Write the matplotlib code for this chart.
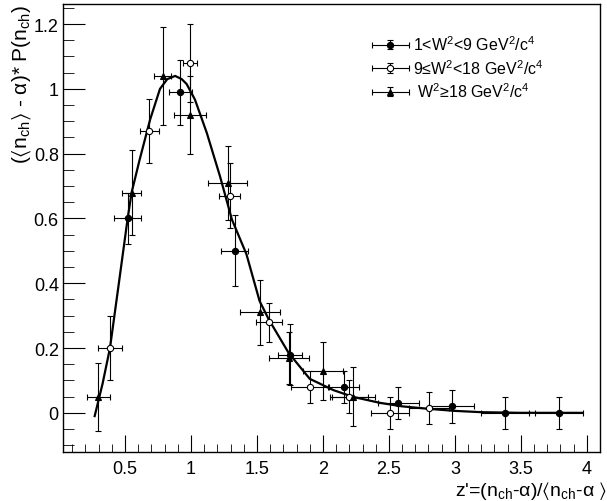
import matplotlib
matplotlib.use("Agg")
import matplotlib.pyplot as plt
from matplotlib.ticker import MultipleLocator
from matplotlib.container import ErrorbarContainer
from matplotlib.legend_handler import HandlerErrorbar

plt.rcParams['font.family'] = ['Liberation Sans', 'DejaVu Sans']
plt.rcParams['mathtext.fontset'] = 'custom'
plt.rcParams['mathtext.rm'] = 'Liberation Sans'
plt.rcParams['mathtext.default'] = 'regular'

# 1<W^2<9 (filled circles)
z_low = [0.52, 0.92, 1.33, 1.75, 2.16, 2.57, 2.975, 3.38, 3.79]
p_low = [0.60, 0.99, 0.50, 0.18, 0.08, 0.03, 0.02, 0.0, 0.0]
zerr_low = [0.10, 0.09, 0.10, 0.09, 0.115, 0.155, 0.17, 0.18, 0.18]
perr_low = [0.08, 0.10, 0.11, 0.095, 0.05, 0.05, 0.05, 0.05, 0.05]

# 9<=W^2<18 (open circles)
z_mid = [0.386, 0.684, 0.995, 1.295, 1.593, 1.90, 2.197, 2.51, 2.805]
p_mid = [0.20, 0.87, 1.08, 0.67, 0.28, 0.08, 0.05, 0.0, 0.015]
zerr_mid = [0.09, 0.073, 0.053, 0.08, 0.10, 0.14, 0.145, 0.145, 0.15]
perr_mid = [0.10, 0.10, 0.12, 0.10, 0.06, 0.05, 0.05, 0.05, 0.05]

# W^2>=18 (triangles)
z_high = [0.298, 0.55, 0.785, 0.995, 1.278, 1.523, 1.745, 2.0, 2.23]
p_high = [0.05, 0.68, 1.04, 0.92, 0.71, 0.31, 0.17, 0.13, 0.05]
zerr_high = [0.085, 0.07, 0.067, 0.12, 0.15, 0.15, 0.15, 0.15, 0.165]
perr_high = [0.105, 0.13, 0.15, 0.12, 0.115, 0.10, 0.08, 0.09, 0.09]

# fit curve
fit_z = [0.27, 0.33, 0.386, 0.45, 0.52, 0.55, 0.61, 0.69, 0.765, 0.82, 0.88,
         0.93, 0.967, 1.03, 1.12, 1.22, 1.31, 1.42, 1.52, 1.59, 1.74, 1.90,
         2.08, 2.23, 2.43, 2.6, 2.81, 3.0, 3.2, 3.5, 3.97]
fit_p = [-0.01, 0.09, 0.20, 0.39, 0.60, 0.68, 0.78, 0.905, 1.0, 1.03, 1.04,
         1.03, 1.015, 0.967, 0.864, 0.73, 0.597, 0.49, 0.345, 0.288, 0.185, 0.105,
         0.07, 0.049, 0.031, 0.02, 0.012, 0.006, 0.002, 0.0, 0.0]

fig = plt.figure(figsize=(6.07, 5.02), dpi=100)
ax = fig.add_axes([63 / 607, 1 - 452.7 / 502, 537 / 607, 447.7 / 502])

ax.plot(fit_z, fit_p, color='black', lw=1.6, zorder=2)

eb = dict(ls='none', ecolor='black', elinewidth=0.8, capsize=2, capthick=0.8,
          markersize=4.5, markeredgecolor='black', markeredgewidth=0.8, zorder=3)
ax.errorbar(z_low, p_low, xerr=zerr_low, yerr=perr_low, fmt='o',
            markerfacecolor='black', label=r'1<W$^{2}$<9 GeV$^{2}$/c$^{4}$', **eb)
ax.errorbar(z_mid, p_mid, xerr=zerr_mid, yerr=perr_mid, fmt='o',
            markerfacecolor='white', label=r'9≤W$^{2}$<18 GeV$^{2}$/c$^{4}$', **eb)
ax.errorbar(z_high, p_high, xerr=zerr_high, yerr=perr_high, fmt='^',
            markerfacecolor='black', label=r' W$^{2}$≥18 GeV$^{2}$/c$^{4}$', **eb)

ax.set_xlim(0.03, 4.1)
ax.set_ylim(-0.12, 1.262)
ax.xaxis.set_minor_locator(MultipleLocator(0.1))
ax.yaxis.set_minor_locator(MultipleLocator(0.05))
ax.set_xticks([0.5, 1, 1.5, 2, 2.5, 3, 3.5, 4])
ax.set_xticklabels(['0.5', '1', '1.5', '2', '2.5', '3', '3.5', '4'])
ax.set_yticks([0, 0.2, 0.4, 0.6, 0.8, 1, 1.2])
ax.set_yticklabels(['0', '0.2', '0.4', '0.6', '0.8', '1', '1.2'])
ax.tick_params(axis='both', which='both', direction='in', labelsize=13)
ax.tick_params(axis='x', which='major', length=12, pad=6)
ax.tick_params(axis='x', which='minor', length=6)
ax.tick_params(axis='y', which='major', length=16, pad=3)
ax.tick_params(axis='y', which='minor', length=8)
for s in ax.spines.values():
    s.set_linewidth(1.0)

ax.set_ylabel(r'($\langle$n$_{ch}\rangle$ - $\alpha$)* P(n$_{ch}$)', fontsize=15, loc='top')
ax.yaxis.set_label_coords(-0.056, 1.0)
ax.set_xlabel(r"z'=(n$_{ch}$-$\alpha$)/$\langle$n$_{ch}$-$\alpha$ $\rangle$", fontsize=14, loc='right')
ax.xaxis.set_label_coords(1.013, -0.06)

leg = ax.legend(loc='upper left', bbox_to_anchor=(0.575, 0.932), frameon=False,
                borderaxespad=0, borderpad=0,
                fontsize=11.5, handlelength=2.3, handletextpad=0.3, labelspacing=0.3,
                handler_map={ErrorbarContainer: HandlerErrorbar(xerr_size=1.15, yerr_size=0.3)})

fig.savefig('out.png', dpi=100)
